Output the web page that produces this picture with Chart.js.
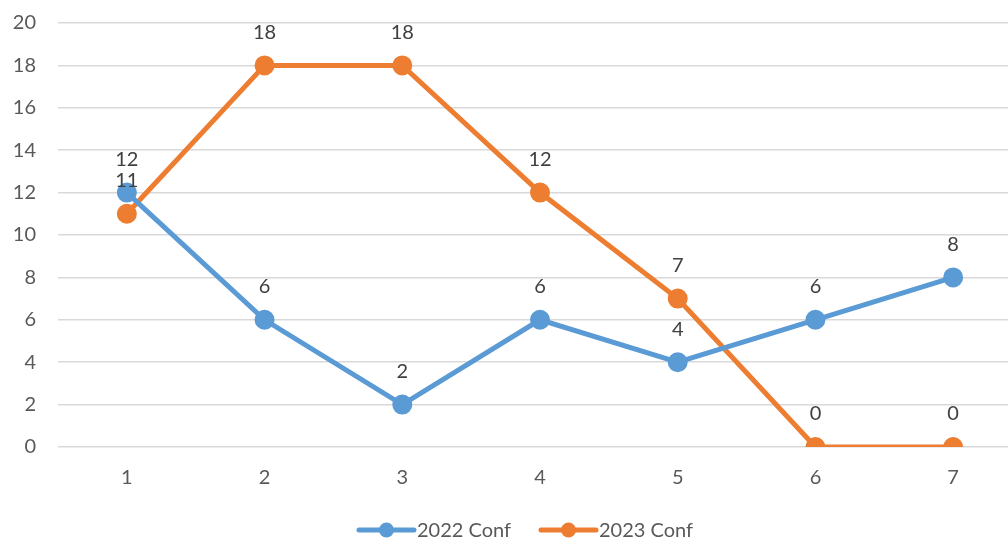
<!DOCTYPE html>
<html>
<head>
<meta charset="utf-8">
<script src="https://cdn.jsdelivr.net/npm/chart.js@4.4.1/dist/chart.umd.min.js"></script>
<style>
  html, body { margin: 0; padding: 0; background: #fff; overflow: hidden; }
  #wrap { width: 1040px; height: 543px; position: relative; }
</style>
</head>
<body>
<div id="wrap"><canvas id="conf-chart"></canvas></div>
<script>
const categories = ['1', '2', '3', '4', '5', '6', '7'];
const conf2022 = [12, 6, 2, 6, 4, 6, 8];
const conf2023 = [11, 18, 18, 12, 7, 0, 0];
const seriesNames = ['2022 Conf', '2023 Conf'];
const seriesColors = ['#5B9BD5', '#ED7D31'];

const fontFamily = 'Lato, "Open Sans", sans-serif';

// labels above each point, plus an Excel-style legend at the bottom
const labelPlugin = {
    id: 'pointLabels',
    afterDatasetsDraw(chart) {
        const ctx = chart.ctx;
        ctx.save();
        ctx.font = '20px ' + fontFamily;
        ctx.fillStyle = '#404040';
        ctx.textAlign = 'center';
        ctx.textBaseline = 'middle';
        chart.data.datasets.forEach((ds, i) => {
            chart.getDatasetMeta(i).data.forEach((pt, j) => {
                ctx.fillText(String(ds.data[j]), pt.x, pt.y - 33);
            });
        });

        // legend
        const lineLen = 55, gap = 3, spacing = 30, legendY = 530;
        const widths = chart.data.datasets.map(ds => ctx.measureText(ds.label).width);
        let total = 0;
        widths.forEach((w, i) => { total += lineLen + gap + w + (i > 0 ? spacing : 0); });
        let x = 526 - total / 2;
        ctx.textAlign = 'left';
        chart.data.datasets.forEach((ds, i) => {
            ctx.strokeStyle = ds.borderColor;
            ctx.lineWidth = 5;
            ctx.lineCap = 'round';
            ctx.beginPath();
            ctx.moveTo(x, legendY);
            ctx.lineTo(x + lineLen, legendY);
            ctx.stroke();
            ctx.beginPath();
            ctx.fillStyle = ds.borderColor;
            ctx.arc(x + lineLen / 2, legendY, 7.5, 0, Math.PI * 2);
            ctx.fill();
            ctx.fillStyle = '#595959';
            ctx.fillText(ds.label, x + lineLen + gap, legendY + 1);
            x += lineLen + gap + widths[i] + spacing;
        });
        ctx.restore();
    }
};

new Chart(document.getElementById('conf-chart'), {
    type: 'line',
    data: {
        labels: categories,
        datasets: [
            {
                label: seriesNames[0],
                data: conf2022,
                borderColor: seriesColors[0],
                backgroundColor: seriesColors[0],
                borderWidth: 5,
                pointRadius: 7.5,
                pointHoverRadius: 7.5,
                tension: 0
            },
            {
                label: seriesNames[1],
                data: conf2023,
                borderColor: seriesColors[1],
                backgroundColor: seriesColors[1],
                borderWidth: 5,
                pointRadius: 7.5,
                pointHoverRadius: 7.5,
                tension: 0
            }
        ]
    },
    options: {
        responsive: true,
        maintainAspectRatio: false,
        animation: false,
        layout: {
            padding: { top: 23, right: 18, bottom: 0, left: 0 }
        },
        plugins: {
            legend: { display: false },
            tooltip: { enabled: false }
        },
        scales: {
            x: {
                offset: true,
                grid: { display: false, drawTicks: false },
                border: { display: false },
                ticks: {
                    padding: 19,
                    color: '#595959',
                    font: { size: 20, family: fontFamily }
                },
                afterFit(scale) { scale.height = 96; }
            },
            y: {
                min: 0,
                max: 20,
                grid: {
                    color: '#D9D9D9',
                    lineWidth: 1.5,
                    drawTicks: true,
                    tickLength: 22,
                    tickColor: 'rgba(0,0,0,0)'
                },
                border: { display: false },
                ticks: {
                    stepSize: 2,
                    padding: 0,
                    color: '#595959',
                    font: { size: 20, family: fontFamily }
                },
                afterFit(scale) { scale.width = 58; }
            }
        }
    },
    plugins: [labelPlugin]
});
</script>
</body>
</html>
